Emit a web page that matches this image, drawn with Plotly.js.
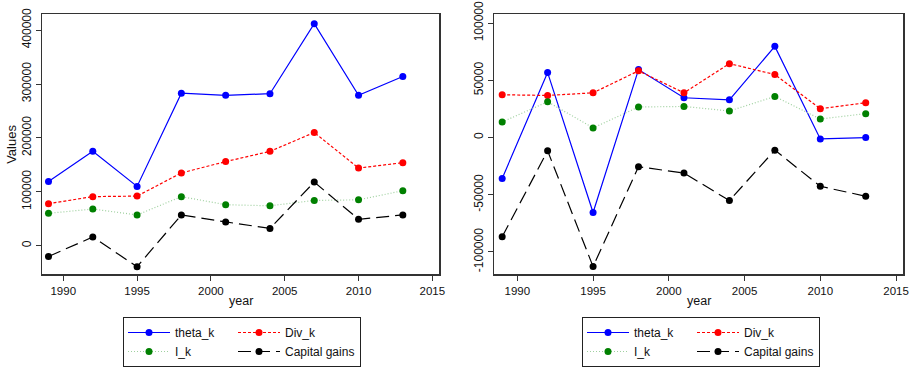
<!DOCTYPE html>
<html>
<head>
<meta charset="utf-8">
<script src="https://cdn.plot.ly/plotly-3.0.1.min.js"></script>
<style>
  html, body { margin: 0; padding: 0; background: #fff; }
  #chart { width: 912px; height: 367px; }
</style>
</head>
<body>
<div id="chart"></div>
<script>
// Survey years
const years = [1989, 1992, 1995, 1998, 2001, 2004, 2007, 2010, 2013];

// Left panel: levels
const thetaK_left = [119000, 175000, 110000, 283000, 279000, 282000, 412000, 279000, 314000];
const divK_left   = [78000, 91000, 92000, 135000, 156000, 175000, 210000, 144000, 154000];
const iK_left     = [60000, 68000, 57000, 91000, 76000, 74000, 84000, 85000, 102000];
const capGains_left = [-20000, 16000, -39000, 57000, 44000, 32000, 118000, 49000, 57000];

// Right panel: second decomposition
const thetaK_right = [-35700, 56800, -65500, 59400, 34800, 33000, 79700, -1200, 0];
const divK_right   = [37400, 36800, 39100, 58300, 39100, 64600, 55100, 25200, 30400];
const iK_right     = [13600, 31300, 8400, 26700, 27200, 23200, 35900, 16200, 20900];
const capGains_right = [-86700, -11600, -112800, -25500, -31000, -55100, -11000, -42600, -51300];

// Series names, axis titles and ticks
const seriesNames = ["theta_k", "Div_k", "I_k", "Capital gains"];
const xTitle = "year";
const yTitleLeft = "Values";
const xTicks = [1990, 1995, 2000, 2005, 2010, 2015];
const xTickText = ["1990", "1995", "2000", "2005", "2010", "2015"];
const yTicksLeft = [0, 100000, 200000, 300000, 400000];
const yTickTextLeft = ["0", "100000", "200000", "300000", "400000"];
const yTicksRight = [-100000, -50000, 0, 50000, 100000];
const yTickTextRight = ["-100000", "-50000", "0", "50000", "100000"];

const FONT = "Liberation Sans, Arial, Helvetica, sans-serif";

// line/marker styling per series; group "a" forms the first legend column
const styles = [
  { line: { color: "#0000ff", width: 1.2, dash: "solid" }, marker: { color: "#0000ff" }, grp: "a" },
  { line: { color: "#ff0000", width: 1.2, dash: "3px,2px" }, marker: { color: "#ff0000" }, grp: "b" },
  { line: { color: "#9fd09f", width: 1.2, dash: "1px,2px" }, marker: { color: "#008000" }, grp: "a" },
  { line: { color: "#000000", width: 1.2, dash: "13px,6px" }, marker: { color: "#000000" }, grp: "b" }
];

function makeTraces(seriesList, xa, ya, legendId, prefix) {
  return seriesList.map((ys, i) => {
    const t = {
      type: "scatter",
      mode: "lines+markers",
      x: years,
      y: ys,
      name: seriesNames[i],
      xaxis: xa,
      yaxis: ya,
      legend: legendId,
      legendgroup: prefix + styles[i].grp,
      line: styles[i].line,
      marker: { size: 7, color: styles[i].marker.color }
    };
    if (styles[i].grp === "a") t.legendwidth = 53;
    return t;
  });
}

const data = [
  ...makeTraces([thetaK_left, divK_left, iK_left, capGains_left], "x", "y", "legend", "L"),
  ...makeTraces([thetaK_right, divK_right, iK_right, capGains_right], "x2", "y2", "legend2", "R")
];

const W = 912, H = 367;
const frame = "#333333";
const leftDom = [42 / W, 439.3 / W];
const rightDom = [494.3 / W, 903.3 / W];
const yDom = [1 - 276 / H, 1 - 14.3 / H];

function xAxis(domain, range, anchor) {
  return {
    domain: domain, range: range, anchor: anchor,
    tickmode: "array", tickvals: xTicks, ticktext: xTickText,
    ticks: "outside", ticklen: 5, tickwidth: 1, tickcolor: frame,
    showline: true, linecolor: frame, linewidth: 1.3, mirror: true,
    showgrid: false, zeroline: false,
    tickfont: { family: FONT, size: 11.5, color: "#111" },
    automargin: false
  };
}
function yAxis(domain, range, anchor, vals, text) {
  return {
    domain: domain, range: range, anchor: anchor,
    tickmode: "array", tickvals: vals, ticktext: text,
    tickangle: -90,
    ticks: "outside", ticklen: 5, tickwidth: 1, tickcolor: frame,
    showline: true, linecolor: frame, linewidth: 1.3, mirror: true,
    showgrid: false, zeroline: false,
    tickfont: { family: FONT, size: 12, color: "#111" },
    automargin: false
  };
}

function legendBox(xPx) {
  return {
    x: xPx / W, y: 1 - 319 / H, xanchor: "left", yanchor: "top",
    orientation: "h", traceorder: "grouped", tracegroupgap: 0,
    itemwidth: 42,
    bgcolor: "#ffffff", bordercolor: "#222", borderwidth: 1,
    font: { family: FONT, size: 12, color: "#111" }
  };
}

// axis titles placed as paper-anchored text
const titleFont = { family: FONT, size: 12.5, color: "#111" };
const annotations = [
  { text: xTitle, xref: "paper", yref: "paper", x: (leftDom[0] + leftDom[1]) / 2, y: 1 - 303 / H,
    xanchor: "center", yanchor: "middle", showarrow: false, font: titleFont },
  { text: xTitle, xref: "paper", yref: "paper", x: (rightDom[0] + rightDom[1]) / 2, y: 1 - 303 / H,
    xanchor: "center", yanchor: "middle", showarrow: false, font: titleFont },
  { text: yTitleLeft, xref: "paper", yref: "paper", x: 11.5 / W, y: (yDom[0] + yDom[1]) / 2,
    xanchor: "center", yanchor: "middle", textangle: -90, showarrow: false,
    font: { family: FONT, size: 13, color: "#111" } }
];

const layout = {
  width: W, height: H,
  margin: { l: 0, r: 0, t: 0, b: 0 },
  paper_bgcolor: "#ffffff", plot_bgcolor: "#ffffff",
  font: { family: FONT },
  xaxis: xAxis(leftDom, [1988.56, 2015.47], "y"),
  yaxis: yAxis(yDom, [-53500, 429500], "x", yTicksLeft, yTickTextLeft),
  xaxis2: xAxis(rightDom, [1988.48, 2015.48], "y2"),
  yaxis2: yAxis(yDom, [-119700, 107800], "x2", yTicksRight, yTickTextRight),
  legend: legendBox(123),
  legend2: legendBox(582),
  annotations: annotations,
  showlegend: true
};

Plotly.newPlot("chart", data, layout, { displayModeBar: false, staticPlot: true });
</script>
</body>
</html>
